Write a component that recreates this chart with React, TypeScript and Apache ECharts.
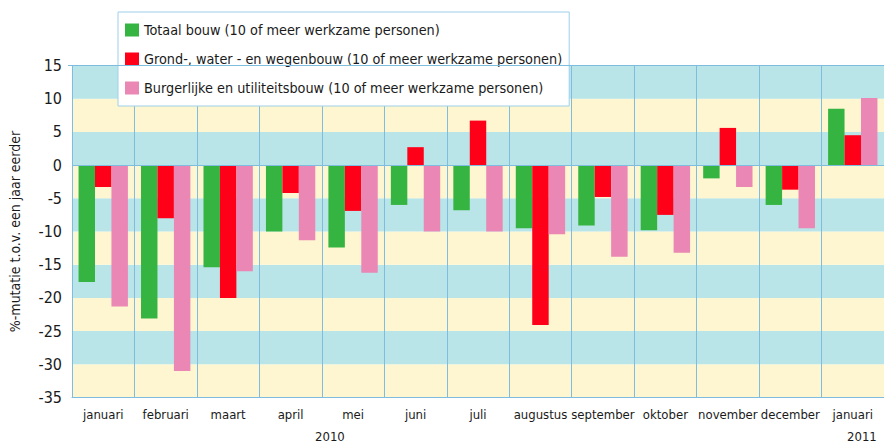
import React, { useEffect, useRef } from "react";
import * as echarts from "echarts";

const categories = ["januari", "februari", "maart", "april", "mei", "juni", "juli", "augustus", "september", "oktober", "november", "december", "januari"];
const seriesNames = [
  "Totaal bouw (10 of meer werkzame personen)",
  "Grond-, water - en wegenbouw (10 of meer werkzame personen)",
  "Burgerlijke en utiliteitsbouw (10 of meer werkzame personen)",
];
const totaal = [-17.6, -23.1, -15.4, -10.0, -12.4, -6.0, -6.8, -9.5, -9.1, -9.8, -2.0, -6.0, 8.5];
const grond = [-3.3, -8.0, -20.0, -4.2, -6.9, 2.7, 6.7, -24.1, -4.8, -7.5, 5.6, -3.7, 4.5];
const burger = [-21.3, -31.0, -16.0, -11.3, -16.2, -10.0, -10.0, -10.4, -13.8, -13.2, -3.3, -9.5, 10.1];
const colors = ["#36b441", "#ff0019", "#ea87b5"];
const yearLabels = ["2010", "2011"];
const yAxisName = "%-mutatie t.o.v. een jaar eerder";

const FONT = "'DejaVu Sans Condensed', 'Roboto', sans-serif";

export default function App() {
  const ref = useRef<HTMLDivElement>(null);
  useEffect(() => {
    document.body.style.margin = "0";
    const chart = echarts.init(ref.current!, null, { renderer: "svg" });
    const mk = (name: string, data: number[], color: string, withZero: boolean) => ({
      name,
      type: "bar",
      data,
      barGap: "0%",
      barCategoryGap: "21%",
      itemStyle: { color },
      ...(withZero
        ? {
            markLine: {
              silent: true,
              symbol: "none",
              label: { show: false },
              lineStyle: { color: "#7fbde0", width: 1, type: "solid" },
              data: [{ yAxis: 0 }],
            },
          }
        : {}),
    });
    chart.setOption({
      animation: false,
      textStyle: { fontFamily: FONT },
      grid: { left: 68, top: 65.5, width: 822, bottom: 47.5, containLabel: false },
      legend: {
        orient: "vertical",
        left: 118,
        top: 12,
        backgroundColor: "#ffffff",
        borderColor: "#9fd0ea",
        borderWidth: 1,
        padding: [11, 7, 11, 7],
        itemWidth: 14,
        itemHeight: 13,
        itemGap: 15,
        icon: "rect",
        textStyle: { fontFamily: FONT, fontSize: 14.3, lineHeight: 14, color: "#1a1a1a" },
        data: seriesNames,
      },
      xAxis: {
        type: "category",
        data: categories,
        axisLine: { onZero: false, lineStyle: { color: "#7fbde0", width: 1 } },
        axisTick: { show: false },
        axisLabel: { fontFamily: FONT, fontSize: 13, color: "#1a1a1a", margin: 10, interval: 0 },
        splitLine: { show: true, lineStyle: { color: "#7fbde0", width: 1 } },
      },
      yAxis: {
        type: "value",
        min: -35,
        max: 15,
        interval: 5,
        name: yAxisName,
        nameLocation: "middle",
        nameGap: 50,
        nameTextStyle: { fontFamily: FONT, fontSize: 14, color: "#1a1a1a" },
        axisLine: { show: true, lineStyle: { color: "#7fbde0", width: 1 } },
        axisTick: { show: false },
        axisLabel: { fontFamily: FONT, fontSize: 16, color: "#1a1a1a", margin: 10 },
        splitLine: { show: false },
        splitArea: { show: true, areaStyle: { color: ["#fef6d0", "#b9e5e8"] } },
      },
      graphic: [
        {
          type: "line",
          shape: { x1: 68, y1: 65.5, x2: 884, y2: 65.5 },
          style: { stroke: "#7fbde0", lineWidth: 1 },
          z: 5,
        },
        {
          type: "text",
          left: 315,
          top: 430,
          style: { text: yearLabels[0], font: `13px ${FONT}`, fill: "#1a1a1a" },
        },
        {
          type: "text",
          left: 847,
          top: 430,
          style: { text: yearLabels[1], font: `13px ${FONT}`, fill: "#1a1a1a" },
        },
      ],
      series: [
        mk(seriesNames[0], totaal, colors[0], true),
        mk(seriesNames[1], grond, colors[1], false),
        mk(seriesNames[2], burger, colors[2], false),
      ],
    });
    return () => chart.dispose();
  }, []);
  return <div ref={ref} style={{ width: 884, height: 445 }} />;
}
